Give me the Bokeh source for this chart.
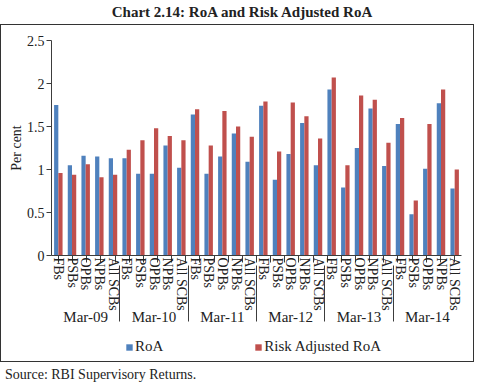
from bokeh.plotting import figure
from bokeh.models import (ColumnDataSource, FactorRange, Range1d, CategoricalAxis,
                          FixedTicker, Legend, LegendItem, Div)
from bokeh.layouts import column
from bokeh.transform import dodge
from bokeh.embed import file_html
from bokeh.resources import INLINE

# ---- data ----
years = ["Mar-09", "Mar-10", "Mar-11", "Mar-12", "Mar-13", "Mar-14"]
banks = ["FBs", "PSBs", "OPBs", "NPBs", "All SCBs"]
roa = [1.75, 1.05, 1.16, 1.15, 1.13,
       1.13, 0.95, 0.95, 1.28, 1.02,
       1.64, 0.95, 1.15, 1.42, 1.09,
       1.74, 0.88, 1.18, 1.54, 1.05,
       1.93, 0.79, 1.25, 1.71, 1.04,
       1.53, 0.48, 1.01, 1.77, 0.78]
risk_adjusted_roa = [0.96, 0.94, 1.06, 0.91, 0.94,
                     1.23, 1.34, 1.48, 1.39, 1.34,
                     1.70, 1.28, 1.68, 1.50, 1.38,
                     1.79, 1.21, 1.78, 1.62, 1.36,
                     2.07, 1.05, 1.86, 1.81, 1.31,
                     1.60, 0.64, 1.53, 1.93, 1.00]
y_ticks = [0, 0.5, 1, 1.5, 2, 2.5]
y_tick_labels = ["0", "0.5", "1", "1.5", "2", "2.5"]
series_names = ["RoA", "Risk Adjusted RoA"]
title_text = "Chart 2.14: RoA and Risk Adjusted RoA"
source_text = "Source: RBI Supervisory Returns."

BLUE = "#4F81BD"
RED = "#C0504D"
AX = "#3c3c3c"
TXT = "#222222"
FONT = "Liberation Serif"

factors = [(y, b) for y in years for b in banks]
src = ColumnDataSource(dict(x=factors, roa=roa, radj=risk_adjusted_roa))

p = figure(x_range=FactorRange(*factors, group_padding=0, factor_padding=0, range_padding=0),
           y_range=Range1d(y_ticks[0], y_ticks[-1]),
           frame_width=410, frame_height=215,
           min_border_left=50, min_border_right=12, min_border_top=15, min_border_bottom=76,
           output_backend="svg", toolbar_location=None, x_axis_location=None)
p.outline_line_color = None
p.grid.grid_line_color = None
p.background_fill_color = "white"
p.border_fill_color = "white"

bw = 0.31
r1 = p.vbar(x=dodge("x", -bw / 2, range=p.x_range), top="roa", width=bw, source=src,
            fill_color=BLUE, line_color=None)
r2 = p.vbar(x=dodge("x", bw / 2, range=p.x_range), top="radj", width=bw, source=src,
            fill_color=RED, line_color=None)

ya = p.yaxis[0]
ya.ticker = FixedTicker(ticks=y_ticks)
ya.major_label_overrides = {t: l for t, l in zip(y_ticks, y_tick_labels)}
ya.minor_tick_line_color = None
ya.major_tick_in = 0
ya.major_tick_out = 5
ya.axis_line_color = AX
ya.major_tick_line_color = AX
ya.major_label_text_font = FONT
ya.major_label_text_font_size = "14px"
ya.major_label_text_color = TXT
ya.major_label_standoff = 2
ya.axis_label = "Per cent"
ya.axis_label_text_font = FONT
ya.axis_label_text_font_style = "normal"
ya.axis_label_text_font_size = "14px"
ya.axis_label_text_color = TXT
ya.axis_label_standoff = 0

# short ticks between categories: a categorical range whose factor centres sit on the boundaries
boundaries = [str(i) for i in range(len(factors) + 1)]
p.extra_x_ranges = {"idx": FactorRange(*boundaries, range_padding=-1, range_padding_units="absolute")}
tick_axis = CategoricalAxis(x_range_name="idx",
                            major_tick_in=0, major_tick_out=7,
                            major_label_text_font_size="1px", major_label_text_color=None,
                            major_label_standoff=0,
                            axis_line_color=AX, major_tick_line_color=AX)
p.add_layout(tick_axis, "below")

cat_axis = CategoricalAxis(axis_line_color=None, major_tick_line_color=None,
                           major_tick_out=0, major_tick_in=0,
                           major_label_orientation="vertical", major_label_standoff=-5,
                           major_label_text_font=FONT, major_label_text_font_size="14px",
                           major_label_text_color=TXT,
                           group_text_font=FONT, group_text_font_size="15px",
                           group_text_color=TXT, group_text_font_style="normal",
                           separator_line_color=AX, separator_line_width=1)
p.add_layout(cat_axis, "below")

# legend strip: its own small figure (so the legend is not clipped by the bar frame);
# the proxy renderers hold the same series but sit outside that strip's visible value range
lf = figure(width=472, height=30, x_range=p.x_range,
            y_range=Range1d(y_ticks[-1] + 1, y_ticks[-1] + 2),
            min_border=0, output_backend="svg", toolbar_location=None,
            x_axis_location=None, y_axis_location=None)
lf.outline_line_color = None
lf.grid.visible = False
lf.border_fill_color = "white"
g1 = lf.vbar(x="x", top="roa", width=bw, source=src, fill_color=BLUE, line_color=None)
g2 = lf.vbar(x="x", top="radj", width=bw, source=src, fill_color=RED, line_color=None)
legend = Legend(items=[LegendItem(label=series_names[0], renderers=[g1]),
                       LegendItem(label=series_names[1], renderers=[g2])],
                orientation="horizontal", location=(74, 6), spacing=91,
                glyph_width=8, glyph_height=8, label_standoff=2,
                border_line_color=None, background_fill_alpha=0,
                label_text_font=FONT, label_text_font_size="15px", label_text_color=TXT,
                padding=2, margin=0)
lf.add_layout(legend, "center")

box = column(p, lf, spacing=0, styles={"border": "1px solid #333333"})

title_div = Div(text=title_text, width=474, height=14,
                styles={"font-family": FONT, "font-weight": "bold", "font-size": "15px",
                        "text-align": "center", "color": TXT, "line-height": "14px"})
source_div = Div(text=source_text, width=474, height=16,
                 styles={"font-family": FONT, "font-size": "14px", "color": TXT,
                         "line-height": "16px"})

layout = column(title_div, box, source_div, spacing=0)
open("out.html", "w").write(file_html(layout, INLINE))
